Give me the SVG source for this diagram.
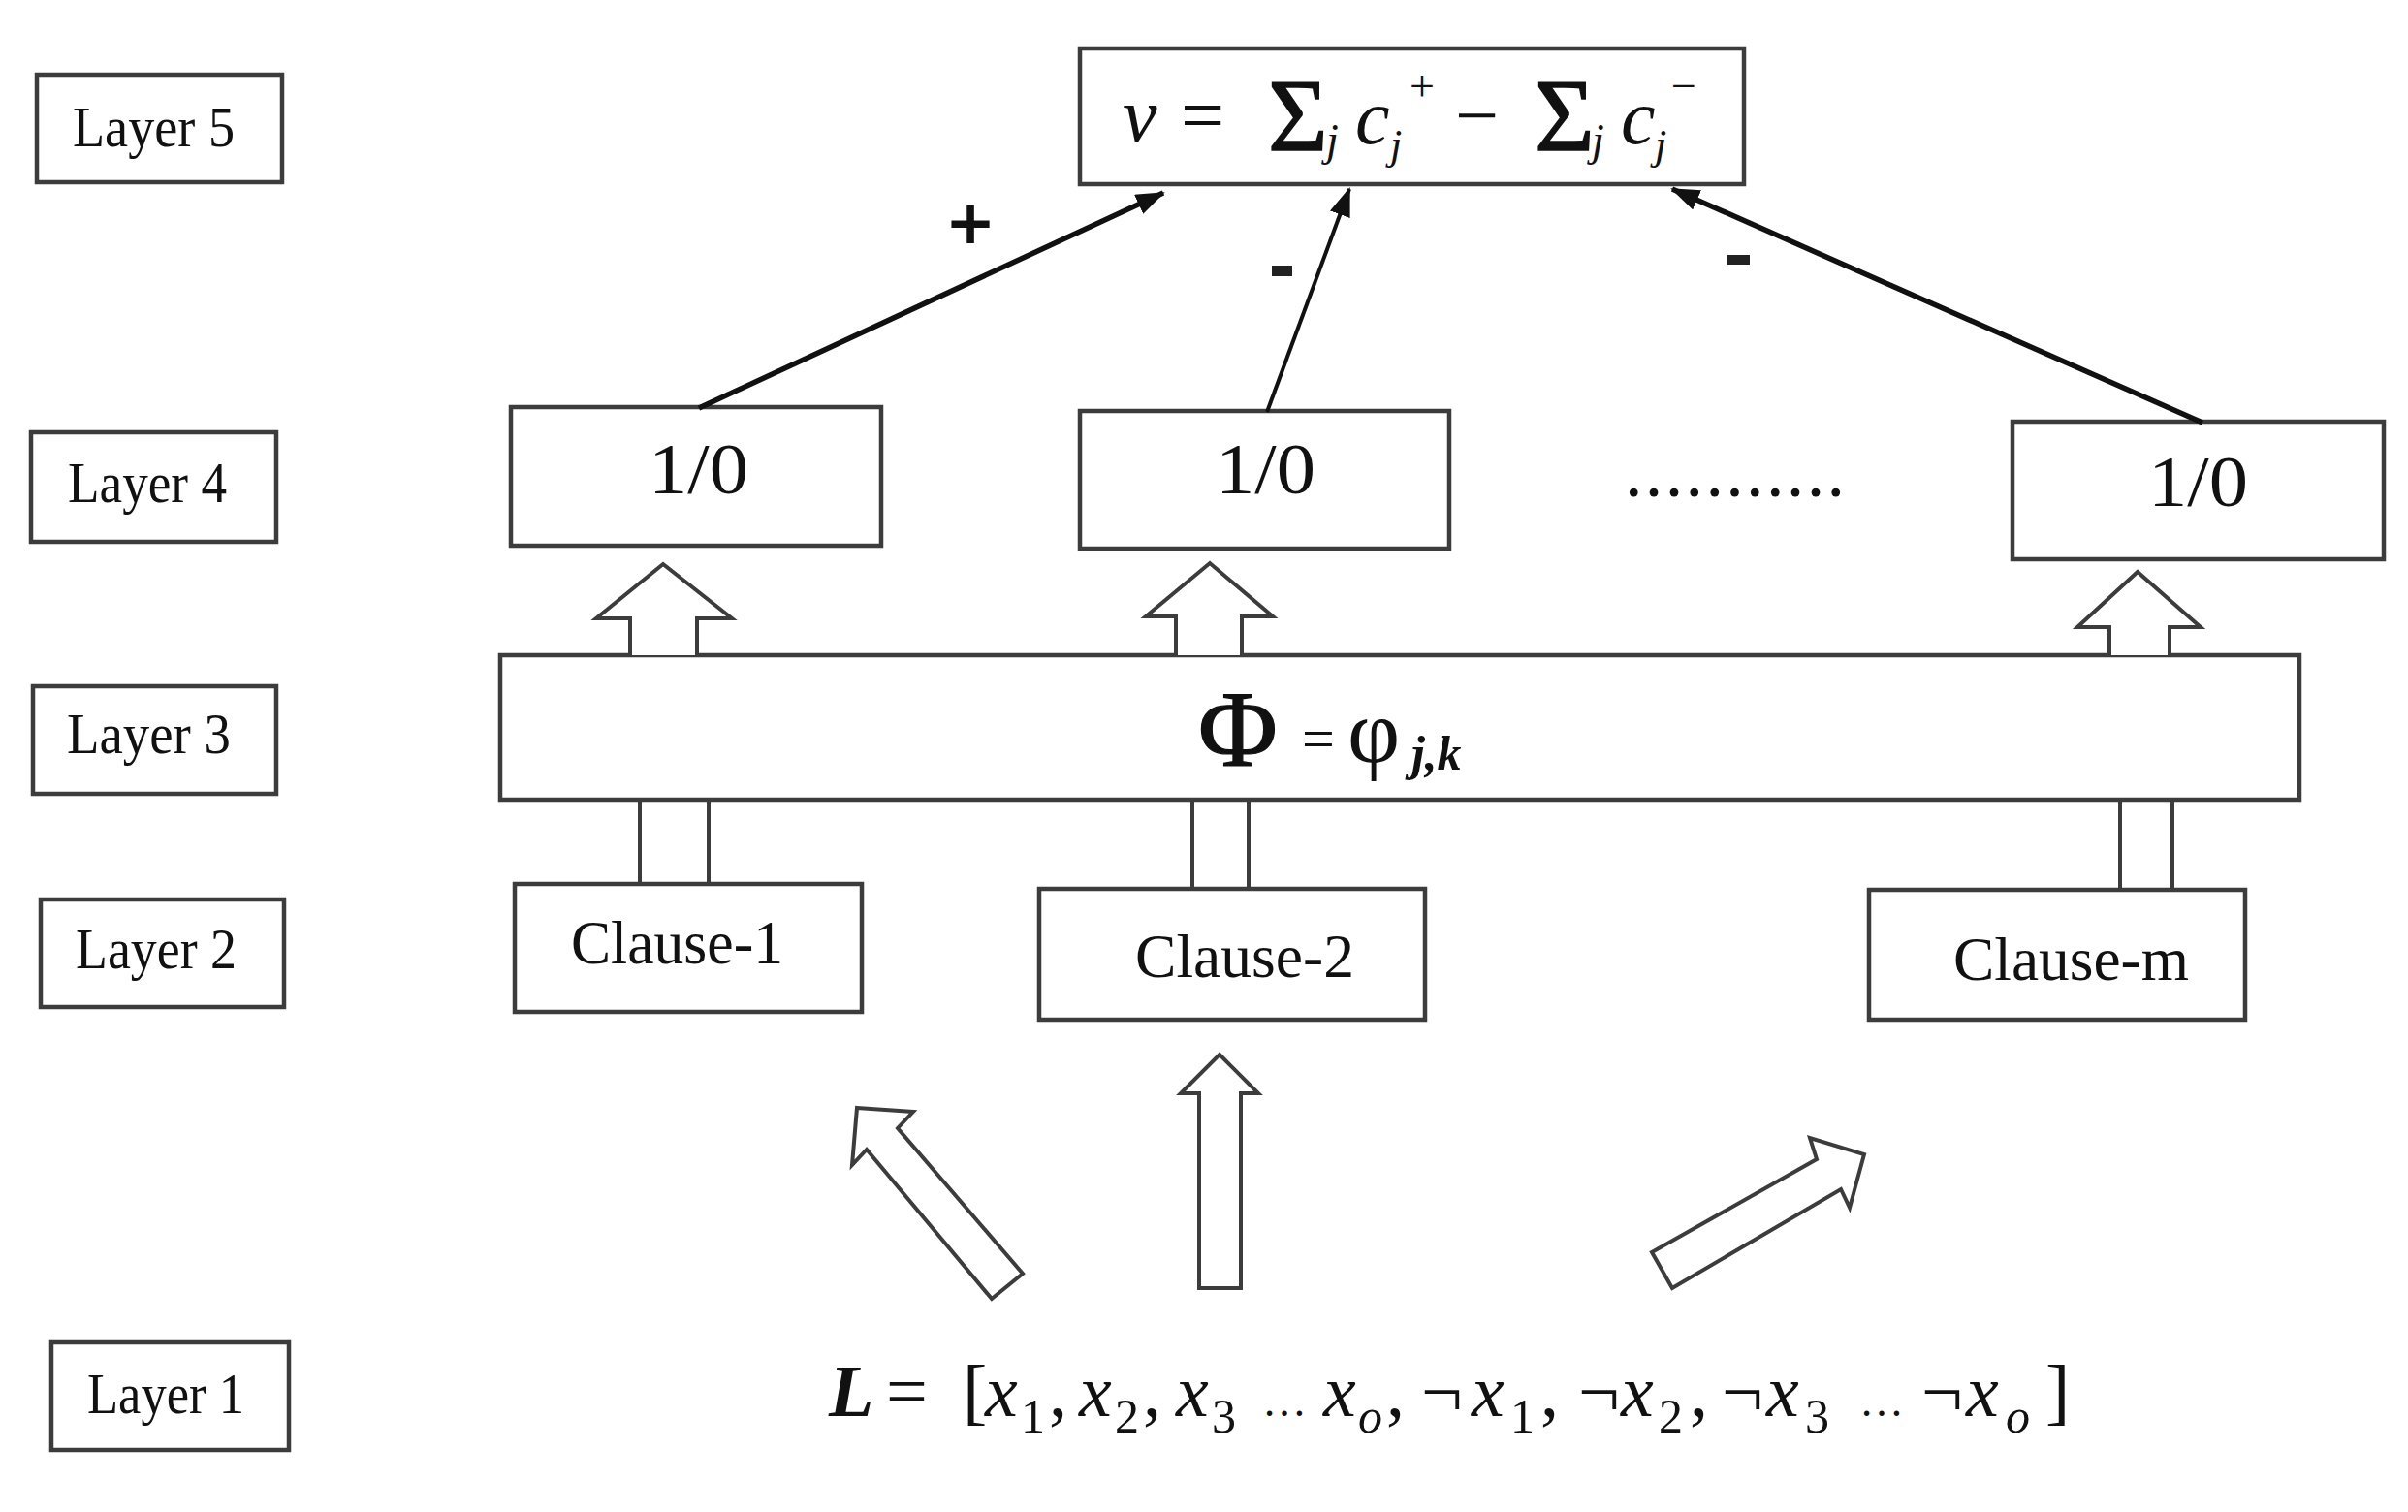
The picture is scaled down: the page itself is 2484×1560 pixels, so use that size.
<svg xmlns="http://www.w3.org/2000/svg" width="2484" height="1560" viewBox="0 0 2484 1560">
<style>
.box{fill:#fff;stroke:#3c3c3c;stroke-width:4.5}
.t{font-family:"Liberation Serif","Times New Roman",serif;fill:#111}
.lab{font-size:60px}
.cl{font-size:64px}
.io{font-size:74px}
.it{font-style:italic}
.blk{fill:#fff;stroke:#3c3c3c;stroke-width:4;stroke-linejoin:miter}
.pair{stroke:#3c3c3c;stroke-width:4;fill:none}
.con{stroke:#111;fill:none}
</style>
<defs>
<marker id="ah" markerWidth="30" markerHeight="22" refX="28" refY="11" orient="auto" markerUnits="userSpaceOnUse">
<path d="M0,0 L30,11 L0,22 z" fill="#111"/>
</marker>
</defs>
<rect width="2484" height="1560" fill="#fff"/>

<g id="layer5"><rect class="box" x="38" y="77" width="253" height="111"/><text class="t lab" x="75" y="151" textLength="167" lengthAdjust="spacingAndGlyphs">Layer 5</text></g>
<g id="layer4"><rect class="box" x="32" y="446" width="253" height="113"/><text class="t lab" x="70" y="518" textLength="164" lengthAdjust="spacingAndGlyphs">Layer 4</text></g>
<g id="layer3"><rect class="box" x="34" y="708" width="251" height="111"/><text class="t lab" x="69" y="777" textLength="169" lengthAdjust="spacingAndGlyphs">Layer 3</text></g>
<g id="layer2"><rect class="box" x="42" y="928" width="251" height="111"/><text class="t lab" x="78" y="999" textLength="166" lengthAdjust="spacingAndGlyphs">Layer 2</text></g>
<g id="layer1"><rect class="box" x="53" y="1385" width="245" height="111"/><text class="t lab" x="90" y="1458" textLength="162" lengthAdjust="spacingAndGlyphs">Layer 1</text></g>

<g id="output">
<rect class="box" x="1114" y="50" width="685" height="140"/>
<text class="t" font-size="80">
<tspan class="it" x="1158" y="146">v</tspan>
<tspan x="1218" y="146">=</tspan>
<tspan x="1308" y="155" font-size="106" stroke="#111" stroke-width="1.5">Σ</tspan>
<tspan class="it" x="1368" y="160" font-size="46">j</tspan>
<tspan class="it" x="1398" y="148">c</tspan>
<tspan class="it" x="1434" y="164" font-size="44">j</tspan>
<tspan x="1454" y="104" font-size="46">+</tspan>
<tspan x="1501" y="146">−</tspan>
<tspan x="1583" y="155" font-size="106" stroke="#111" stroke-width="1.5">Σ</tspan>
<tspan class="it" x="1642" y="160" font-size="46">j</tspan>
<tspan class="it" x="1672" y="148">c</tspan>
<tspan class="it" x="1707" y="164" font-size="44">j</tspan>
<tspan x="1724" y="104" font-size="46">−</tspan>
</text>
</g>

<g id="clause-out-1"><rect class="box" x="527" y="420" width="382" height="143"/><text class="t io" x="669" y="509" textLength="103" lengthAdjust="spacingAndGlyphs">1/0</text></g>
<g id="clause-out-2"><rect class="box" x="1114" y="424" width="381" height="142"/><text class="t io" x="1254" y="509" textLength="103" lengthAdjust="spacingAndGlyphs">1/0</text></g>
<g id="ellipsis"><text class="t io" x="1676" y="512" textLength="227" lengthAdjust="spacing">...........</text></g>
<g id="clause-out-m"><rect class="box" x="2076" y="435" width="383" height="142"/><text class="t io" x="2216" y="522" textLength="103" lengthAdjust="spacingAndGlyphs">1/0</text></g>

<g id="phi">
<rect class="box" x="516" y="676" width="1856" height="149"/>
<text class="t">
<tspan x="1236" y="790" font-size="112" stroke="#111" stroke-width="1.2">Φ</tspan>
<tspan x="1343" y="782" font-size="60">=</tspan>
<tspan x="1390" y="786" font-size="94">φ</tspan>
<tspan class="it" x="1456" y="794" font-size="50" font-weight="bold">j,k</tspan>
</text>
</g>

<g id="clause-1"><rect class="box" x="531" y="912" width="358" height="132"/><text class="t cl" x="589" y="994" textLength="219" lengthAdjust="spacingAndGlyphs">Clause-1</text></g>
<g id="clause-2"><rect class="box" x="1072" y="917" width="398" height="135"/><text class="t cl" x="1171" y="1008" textLength="226" lengthAdjust="spacingAndGlyphs">Clause-2</text></g>
<g id="clause-m"><rect class="box" x="1928" y="918" width="388" height="134"/><text class="t cl" x="2015" y="1011" textLength="243" lengthAdjust="spacingAndGlyphs">Clause-m</text></g>

<g id="literals">
<text class="t" font-size="76">
<tspan x="855" y="1461" font-weight="bold" font-style="italic">L</tspan>
<tspan x="914" y="1461">=</tspan>
<tspan x="993" y="1461">[</tspan>
<tspan class="it" x="1016" y="1461">x</tspan><tspan x="1053" y="1478" font-size="50">1</tspan><tspan x="1082" y="1461">,</tspan>
<tspan class="it" x="1113" y="1461">x</tspan><tspan x="1150" y="1478" font-size="50">2</tspan><tspan x="1179" y="1461">,</tspan>
<tspan class="it" x="1213" y="1461">x</tspan><tspan x="1250" y="1478" font-size="50">3</tspan>
<tspan x="1302" y="1461" font-size="46">…</tspan>
<tspan class="it" x="1365" y="1461">x</tspan><tspan class="it" x="1401" y="1478" font-size="50">o</tspan><tspan x="1430" y="1461">,</tspan>
<tspan x="1466" y="1461">¬</tspan><tspan class="it" x="1518" y="1461">x</tspan><tspan x="1558" y="1478" font-size="50">1</tspan><tspan x="1589" y="1461">,</tspan>
<tspan x="1628" y="1461">¬</tspan><tspan class="it" x="1672" y="1461">x</tspan><tspan x="1711" y="1478" font-size="50">2</tspan><tspan x="1743" y="1461">,</tspan>
<tspan x="1776" y="1461">¬</tspan><tspan class="it" x="1822" y="1461">x</tspan><tspan x="1862" y="1478" font-size="50">3</tspan>
<tspan x="1918" y="1461" font-size="46">…</tspan>
<tspan x="1982" y="1461">¬</tspan><tspan class="it" x="2028" y="1461">x</tspan><tspan class="it" x="2069" y="1478" font-size="50">o</tspan>
<tspan x="2110" y="1461">]</tspan>
</text>
</g>

<g id="connectors">
<line class="con" x1="721" y1="421" x2="1200" y2="199" stroke-width="5.5" marker-end="url(#ah)"/>
<line class="con" x1="1307" y1="425" x2="1392" y2="195" stroke-width="4" marker-end="url(#ah)"/>
<line class="con" x1="2272" y1="436" x2="1725" y2="195" stroke-width="5.5" marker-end="url(#ah)"/>
<text class="t" x="1001" y="258" font-size="80" font-weight="bold" text-anchor="middle" stroke="#111" stroke-width="2">+</text>
<rect x="1312" y="274" width="21" height="11" fill="#222"/>
<rect x="1781" y="263" width="24" height="10" fill="#222"/>

<path class="blk" d="M650,676 V638 H615 L684,582 L755,638 H719 V676"/>
<path class="blk" d="M1213,676 V636 H1182 L1248,581 L1313,636 H1281 V676"/>
<path class="blk" d="M2176,676 V647 H2143 L2205,590 L2270,647 H2238 V676"/>

<line class="pair" x1="660" y1="825" x2="660" y2="912"/>
<line class="pair" x1="731" y1="825" x2="731" y2="912"/>
<line class="pair" x1="1230" y1="825" x2="1230" y2="917"/>
<line class="pair" x1="1288" y1="825" x2="1288" y2="917"/>
<line class="pair" x1="2187" y1="825" x2="2187" y2="918"/>
<line class="pair" x1="2241" y1="825" x2="2241" y2="918"/>

<path class="blk" d="M884,1143 L942,1147 L926,1164 L1055,1314 L1023,1340 L894,1186 L879,1202 Z"/>
<path class="blk" d="M1258,1088 L1298,1128 H1280 V1329 H1237 V1128 H1218 Z"/>
<path class="blk" d="M1923,1191 L1908,1246 L1899,1227 L1725,1329 L1704,1292 L1874,1196 L1867,1174 Z"/>
</g>
</svg>
